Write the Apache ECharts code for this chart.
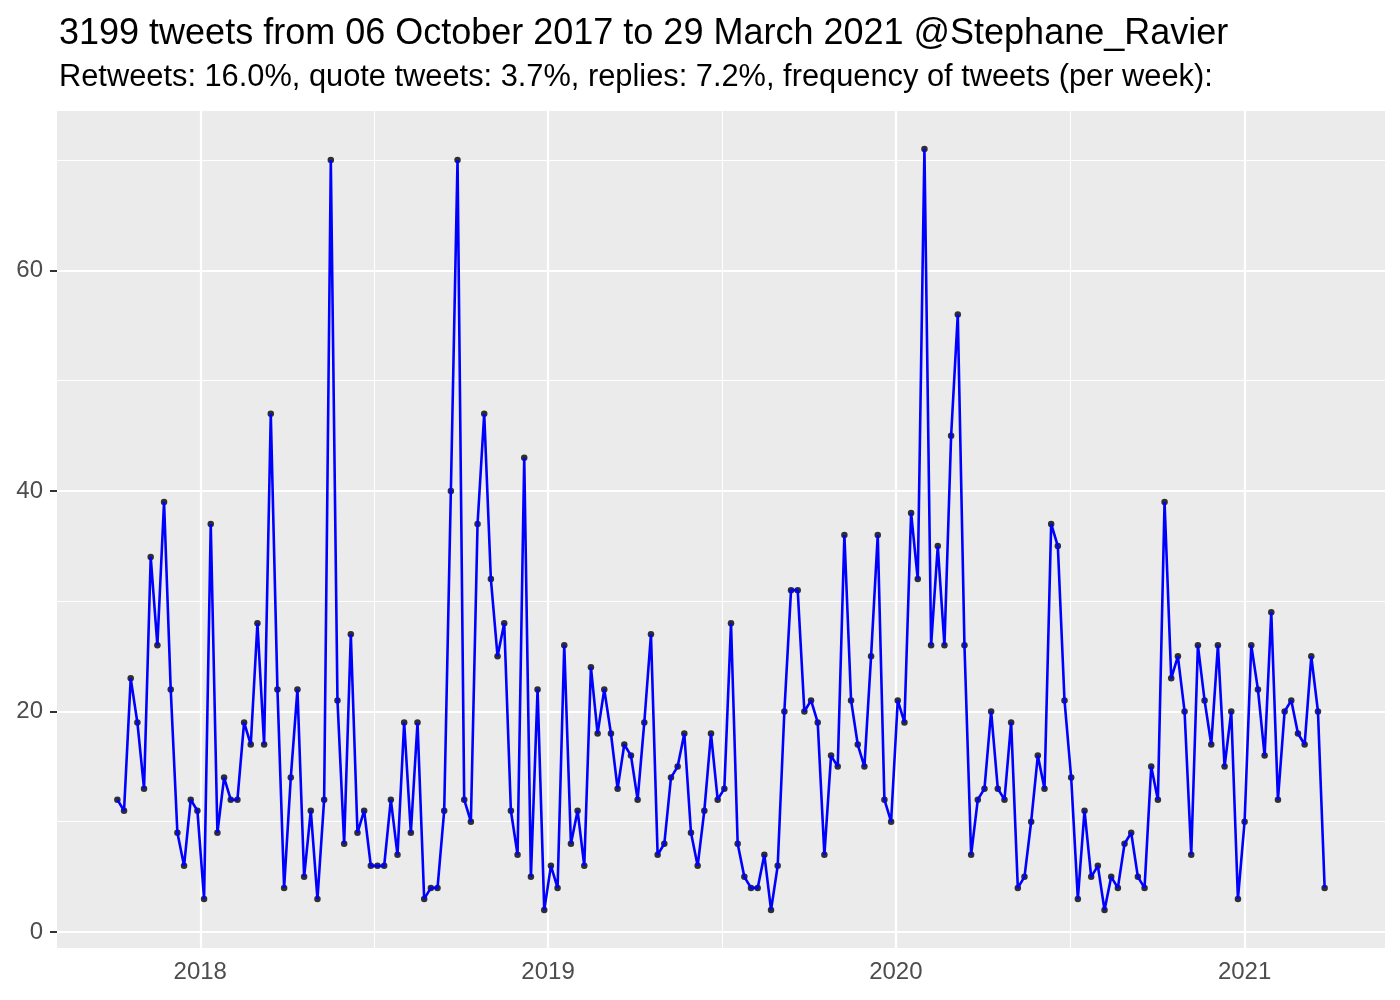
<!DOCTYPE html>
<html>
<head>
<meta charset="utf-8">
<script src="https://cdn.jsdelivr.net/npm/echarts@6/dist/echarts.min.js"></script>
<style>html,body{margin:0;padding:0;background:#fff;}#chart{width:1400px;height:1000px;}</style>
</head>
<body>
<div id="chart"></div>
<script>
// ---- data ----
const titleText = '3199 tweets from 06 October 2017 to 29 March 2021 @Stephane_Ravier';
const subtitleText = 'Retweets: 16.0%, quote tweets: 3.7%, replies: 7.2%, frequency of tweets (per week):';
const firstWeek = [2017, 9, 6];      // 06 Oct 2017 (month 0-based)
const weeklyTweets = [
  12,11,23,19,13,34,26,39,22,9,
  6,12,11,3,37,9,14,12,12,19,
  17,28,17,47,22,4,14,22,5,11,
  3,12,70,21,8,27,9,11,6,6,
  6,12,7,19,9,19,3,4,4,11,
  40,70,12,10,37,47,32,25,28,11,
  7,43,5,22,2,6,4,26,8,11,
  6,24,18,22,18,13,17,16,12,19,
  27,7,8,14,15,18,9,6,11,18,
  12,13,28,8,5,4,4,7,2,6,
  20,31,31,20,21,19,7,16,15,36,
  21,17,15,25,36,12,10,21,19,38,
  32,71,26,35,26,45,56,26,7,12,
  13,20,13,12,19,4,5,10,16,13,
  37,35,21,14,3,11,5,6,2,5,
  4,8,9,5,4,15,12,39,23,25,
  20,7,26,21,17,26,15,20,3,10,
  26,22,16,29,12,20,21,18,17,25,
  20,4
];
const yearTicks = [2018, 2019, 2020, 2021];
const yTicks = [0, 20, 40, 60];
const yMinor = [10, 30, 50, 70];

// ---- build ----
const DAY = 86400000;
const t0 = Date.UTC(firstWeek[0], firstWeek[1], firstWeek[2]);
const points = weeklyTweets.map((v, i) => [t0 + i * 7 * DAY, v]);
const xs = points.map(p => p[0]);
const xLo = Math.min(...xs), xHi = Math.max(...xs);
const xPad = (xHi - xLo) * 0.05;
const yLo = Math.min(...weeklyTweets), yHi = Math.max(...weeklyTweets);
const yPad = (yHi - yLo) * 0.05;
const yearTs = yearTicks.map(y => Date.UTC(y, 0, 1));
const yearMinorTs = [];
for (let i = 0; i < yearTs.length - 1; i++) yearMinorTs.push((yearTs[i] + yearTs[i + 1]) / 2);

const FONT = 'Liberation Sans, Arial, Helvetica, sans-serif';
const gridMarks = [];
yMinor.forEach(v => gridMarks.push({yAxis: v, lineStyle: {width: 1.1}}));
yearMinorTs.forEach(v => gridMarks.push({xAxis: v, lineStyle: {width: 1.1}}));
yTicks.forEach(v => gridMarks.push({yAxis: v, lineStyle: {width: 2.2}}));
yearTs.forEach(v => gridMarks.push({xAxis: v, lineStyle: {width: 2.2}}));

const chart = echarts.init(document.getElementById('chart'), null, {renderer: 'canvas'});
chart.setOption({
  animation: false,
  backgroundColor: '#ffffff',
  title: {
    left: 54, top: 11,
    text: titleText,
    subtext: subtitleText,
    itemGap: 10,
    textStyle: {fontFamily: FONT, fontSize: 36, fontWeight: 'normal', color: '#000000'},
    subtextStyle: {fontFamily: FONT, fontSize: 30.8, color: '#000000'}
  },
  grid: {
    left: 57, right: 15, top: 111, bottom: 52,
    show: true, backgroundColor: '#EBEBEB', borderWidth: 0
  },
  xAxis: {
    type: 'value',
    min: xLo - xPad, max: xHi + xPad,
    axisLine: {show: false},
    splitLine: {show: false},
    axisTick: {show: true, customValues: yearTs, length: 7, lineStyle: {color: '#333333', width: 2}},
    axisLabel: {
      customValues: yearTs, margin: 12,
      fontFamily: FONT, fontSize: 24, color: '#4D4D4D',
      formatter: v => String(new Date(v).getUTCFullYear())
    }
  },
  yAxis: {
    type: 'value',
    min: yLo - yPad, max: yHi + yPad,
    axisLine: {show: false},
    splitLine: {show: false},
    axisTick: {show: true, customValues: yTicks, length: 7, lineStyle: {color: '#333333', width: 2}},
    axisLabel: {customValues: yTicks, margin: 14, fontFamily: FONT, fontSize: 24, color: '#4D4D4D'}
  },
  series: [
    {
      type: 'line', data: [], z: 1, silent: true,
      markLine: {
        z: 1, zlevel: 0,
        silent: true, symbol: ['none', 'none'], animation: false,
        label: {show: false},
        lineStyle: {color: '#ffffff', type: 'solid'},
        data: gridMarks
      }
    },
    {
      type: 'scatter', data: points, z: 3, symbolSize: 6.5,
      itemStyle: {color: '#000000'}
    },
    {
      type: 'line', data: points, z: 4, showSymbol: false,
      lineStyle: {color: '#0000FF', width: 2.6}
    }
  ]
});
</script>
</body>
</html>
